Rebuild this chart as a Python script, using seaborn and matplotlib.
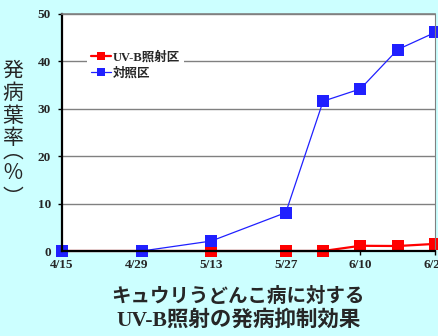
import matplotlib
matplotlib.use("Agg")
import matplotlib.pyplot as plt
import seaborn as sns
import pandas as pd
from matplotlib.lines import Line2D

# ---- data ----
dates = ["4/15", "4/30", "5/13", "5/27", "6/3", "6/10", "6/17", "6/24"]
uvb_values = [0, 0, 0, 0, 0, 1.1, 1.05, 1.5]
control_values = [0, 0, 2.1, 8.1, 31.6, 34.2, 42.5, 46.1]
series_names = ["UV-B照射区", "対照区"]
tick_labels = ["4/15", "4/29", "5/13", "5/27", "6/10", "6/24"]
y_ticks = [0, 10, 20, 30, 40, 50]
ylabel_chars = ["発", "病", "葉", "率", "︵", "％", "︶"]

to_dt = lambda s: pd.to_datetime("2000/" + s, format="%Y/%m/%d")
x = [to_dt(d) for d in dates]
df_uvb = pd.DataFrame({"date": x, "value": uvb_values})
df_ctl = pd.DataFrame({"date": x, "value": control_values})

sns.set_style("white")
plt.rcParams["font.family"] = ["Liberation Serif", "Noto Sans CJK JP", "DejaVu Sans"]

bg = "#CCFFFF"
fig = plt.figure(figsize=(4.38, 3.36), dpi=100, facecolor=bg)
ax = fig.add_axes([62/438, 1-251/336, 373/438, 237/336])
ax.set_facecolor("white")

sns.lineplot(data=df_uvb, x="date", y="value", ax=ax, color="#FF0000", lw=1.6,
             marker="s", markersize=8.8, markeredgewidth=0, clip_on=False, zorder=3)
sns.lineplot(data=df_ctl, x="date", y="value", ax=ax, color="#2020FF", lw=0.9,
             marker="s", markersize=8.8, markeredgewidth=0, clip_on=False, zorder=4)

ax.set_xlim(to_dt("4/15"), to_dt("6/24"))
ax.set_ylim(0, 50)
ax.set_xticks([to_dt(t) for t in tick_labels])
ax.set_xticklabels(tick_labels)
ax.set_yticks(y_ticks)
ax.set_yticklabels([str(v) for v in y_ticks])
ax.set_xlabel("")
ax.set_ylabel("")

for lab in ax.get_xticklabels() + ax.get_yticklabels():
    lab.set_fontweight("bold")
    lab.set_fontsize(9.5)
    lab.set_family(["Liberation Serif"])

ax.yaxis.grid(True, color="#808080", lw=1.0)
ax.set_axisbelow(True)
ax.tick_params(axis="both", which="major", direction="out", length=3, width=1,
               color="black", left=True, bottom=True)
ax.tick_params(axis="x", pad=3)
ax.tick_params(axis="y", pad=5)

ax.spines["left"].set_color("black"); ax.spines["left"].set_linewidth(1.6)
ax.spines["bottom"].set_color("black"); ax.spines["bottom"].set_linewidth(1.6)
ax.spines["top"].set_color("#808080"); ax.spines["top"].set_linewidth(1.2)
ax.spines["right"].set_color("#808080"); ax.spines["right"].set_linewidth(0.8)
for s in ax.spines.values():
    s.set_visible(True)
    s.set_zorder(5)

handles = [
    Line2D([], [], color="#FF0000", lw=1.6, marker="s", markersize=6, markeredgewidth=0),
    Line2D([], [], color="#2020FF", lw=0.9, marker="s", markersize=6, markeredgewidth=0),
]
leg = ax.legend(handles, series_names, loc="upper left", bbox_to_anchor=(0.05, 0.885),
                frameon=True, facecolor="white", edgecolor="none", fancybox=False,
                framealpha=1, handlelength=1.6, handletextpad=0.2, borderpad=0.3,
                labelspacing=0.3, prop={"weight": "bold", "size": 9,
                "family": ["Liberation Serif", "Noto Sans CJK JP"]})
leg.set_zorder(6)

ylab_centers = [71, 93, 116, 138, 152, 173, 198]
for ch, yc in zip(ylabel_chars, ylab_centers):
    fig.text(13/438, 1-yc/336, ch, ha="center", va="center",
             fontsize=15, family=["Noto Sans CJK JP", "DejaVu Sans"])

fig.text(238/438, 1-296/336, "キュウリうどんこ病に対する", ha="center", va="center",
         fontsize=14, fontweight="bold", family=["Noto Sans CJK JP", "DejaVu Sans"])
fig.text(239/438, 1-320/336, "UV-B照射の発病抑制効果", ha="center", va="center",
         fontsize=15.5, fontweight="bold", family=["Liberation Serif", "Noto Sans CJK JP"])

fig.savefig("out.png", dpi=100, facecolor=bg)
